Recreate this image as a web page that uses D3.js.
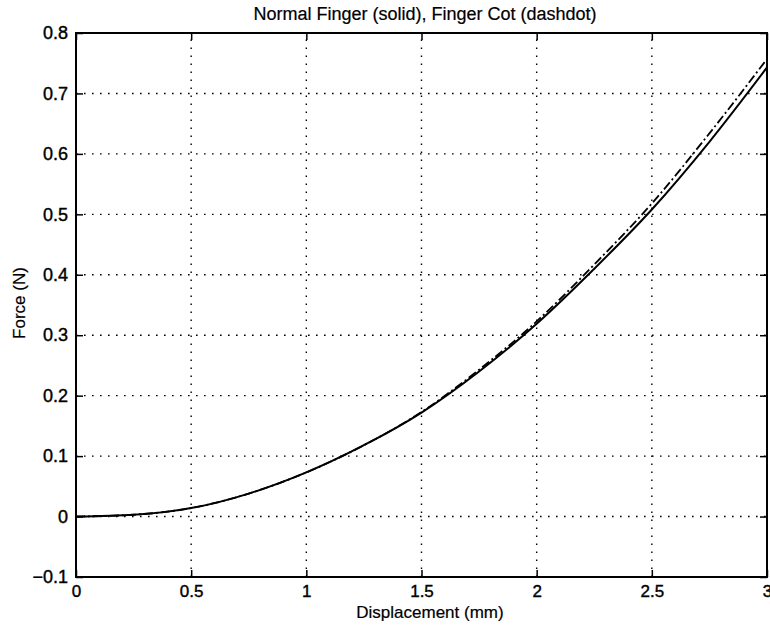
<!DOCTYPE html>
<html>
<head>
<meta charset="utf-8">
<script src="https://cdn.jsdelivr.net/npm/d3@7"></script>
<style>
  body { margin: 0; background: #fff; }
  text { font-family: "Liberation Sans", Arial, Helvetica, sans-serif; fill: #000; }
</style>
</head>
<body>
<script>
// displacement (mm)
const displacement = [0, 0.25, 0.5, 0.75, 1, 1.25, 1.5, 1.75, 2, 2.25, 2.5, 2.75, 3];
// force (N)
const normalFinger = [0, 0.003, 0.014, 0.038, 0.073, 0.118, 0.172, 0.240, 0.319, 0.410, 0.508, 0.620, 0.743];
const fingerCot    = [0, 0.003, 0.014, 0.038, 0.073, 0.118, 0.173, 0.243, 0.323, 0.417, 0.518, 0.634, 0.757];

const xTicks = [0, 0.5, 1, 1.5, 2, 2.5, 3];
const yTicks = [-0.1, 0, 0.1, 0.2, 0.3, 0.4, 0.5, 0.6, 0.7, 0.8];

const W = 770, H = 626;
const plotL = 76, plotR = 767, plotT = 33, plotB = 577;

const svg = d3.select('body').append('svg')
  .attr('width', W)
  .attr('height', H);

const x = d3.scaleLinear().domain([0, 3]).range([plotL, plotR]);
const y = d3.scaleLinear().domain([-0.1, 0.8]).range([plotB, plotT]);

const fmt = d => d < 0 ? '\u2212' + Math.abs(d) : String(d);

// dotted grid
const grid = svg.append('g')
  .attr('stroke', '#000')
  .attr('stroke-width', 1.4)
  .attr('stroke-dasharray', '1.6,6.4');
grid.selectAll('.gx').data(xTicks.slice(1, -1)).join('line')
  .attr('x1', d => x(d)).attr('x2', d => x(d))
  .attr('y1', plotB).attr('y2', plotT);
grid.selectAll('.gy').data(yTicks.slice(1, -1)).join('line')
  .attr('y1', d => y(d)).attr('y2', d => y(d))
  .attr('x1', plotL).attr('x2', plotR);

// axes with inward ticks
const tickLen = 7;
svg.append('g')
  .attr('transform', `translate(0,${plotB})`)
  .call(d3.axisBottom(x).tickValues(xTicks).tickSize(-tickLen).tickPadding(8).tickFormat(fmt))
  .call(g => g.select('.domain').remove())
  .call(g => g.selectAll('text').attr('font-size', 17));

svg.append('g')
  .attr('transform', `translate(0,${plotT})`)
  .call(d3.axisTop(x).tickValues(xTicks).tickSize(-tickLen).tickFormat(''))
  .call(g => g.select('.domain').remove());

svg.append('g')
  .attr('transform', `translate(${plotL},0)`)
  .call(d3.axisLeft(y).tickValues(yTicks).tickSize(-tickLen).tickPadding(8).tickFormat(fmt))
  .call(g => g.select('.domain').remove())
  .call(g => g.selectAll('text').attr('font-size', 18));

svg.append('g')
  .attr('transform', `translate(${plotR},0)`)
  .call(d3.axisRight(y).tickValues(yTicks).tickSize(-tickLen).tickFormat(''))
  .call(g => g.select('.domain').remove());

svg.selectAll('.tick line').attr('stroke-width', 1.5);
svg.selectAll('.tick text')
  .attr('stroke', '#000')
  .attr('stroke-width', 0.4);

// box
svg.append('rect')
  .attr('x', plotL).attr('y', plotT)
  .attr('width', plotR - plotL).attr('height', plotB - plotT)
  .attr('fill', 'none')
  .attr('stroke', '#000')
  .attr('stroke-width', 2);

// curves
const line = d3.line()
  .x((d, i) => x(displacement[i]))
  .y(d => y(d))
  .curve(d3.curveMonotoneX);

svg.append('path')
  .datum(fingerCot)
  .attr('d', line)
  .attr('fill', 'none')
  .attr('stroke', '#000')
  .attr('stroke-width', 1.8)
  .attr('stroke-dasharray', '9,3,2,3');

svg.append('path')
  .datum(normalFinger)
  .attr('d', line)
  .attr('fill', 'none')
  .attr('stroke', '#000')
  .attr('stroke-width', 2);

// labels
svg.append('text')
  .attr('x', 425).attr('y', 20)
  .attr('text-anchor', 'middle')
  .attr('font-size', 18)
  .attr('stroke', '#000').attr('stroke-width', 0.2)
  .text('Normal Finger (solid), Finger Cot (dashdot)');

svg.append('text')
  .attr('x', 430).attr('y', 618)
  .attr('text-anchor', 'middle')
  .attr('font-size', 17)
  .attr('stroke', '#000').attr('stroke-width', 0.2)
  .text('Displacement (mm)');

svg.append('text')
  .attr('transform', 'translate(25,303) rotate(-90)')
  .attr('text-anchor', 'middle')
  .attr('font-size', 17)
  .attr('stroke', '#000').attr('stroke-width', 0.2)
  .text('Force (N)');
</script>
</body>
</html>
